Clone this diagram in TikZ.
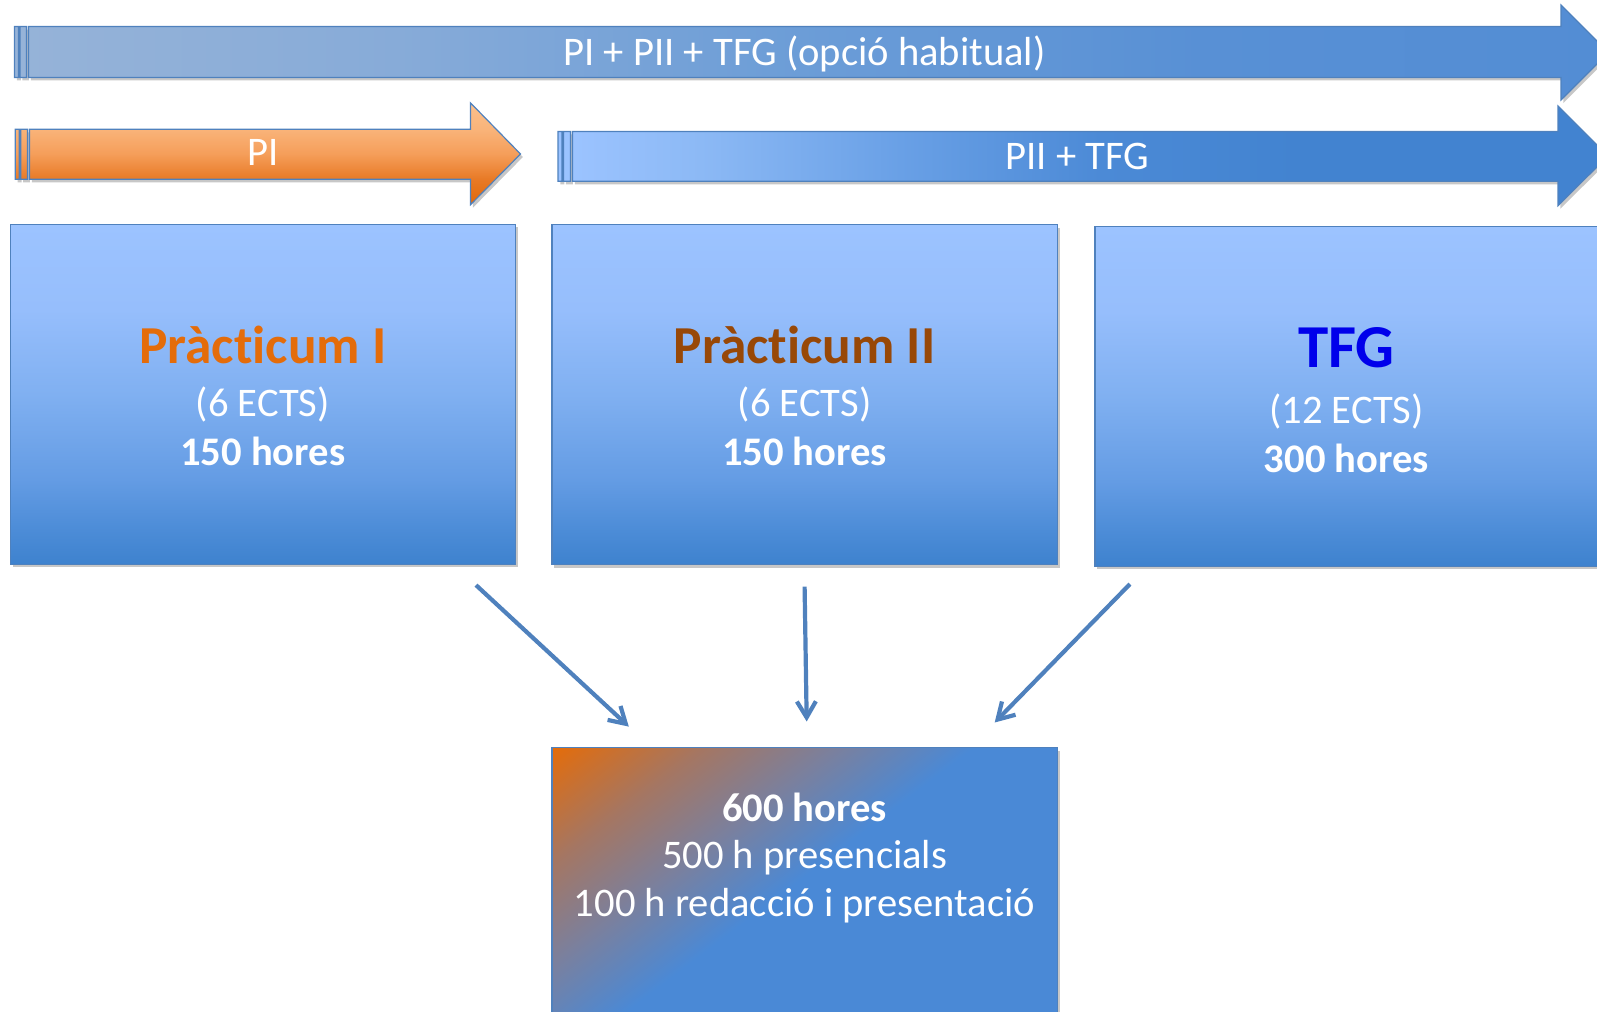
\documentclass[tikz,border=0pt]{standalone}
\usepackage{fontspec}
\setmainfont{Carlito}[RawFeature={-liga;-clig;-calt;-dlig}]
\usetikzlibrary{arrows.meta,shadows,calc}

\definecolor{edgeblue}{RGB}{79,129,189}
\definecolor{ttlorange}{RGB}{228,108,10}
\definecolor{ttlbrown}{RGB}{152,72,7}
\definecolor{ttlblue}{RGB}{0,0,235}

% box vertical shading
\definecolor{bxA}{RGB}{62,130,206}
\definecolor{bxB}{RGB}{76,140,215}
\definecolor{bxC}{RGB}{100,156,228}
\definecolor{bxD}{RGB}{128,176,241}
\definecolor{bxE}{RGB}{150,190,252}
\definecolor{bxF}{RGB}{156,195,255}
\pgfdeclareverticalshading{boxsh}{100bp}{color(0bp)=(bxA); color(25bp)=(bxA); color(30bp)=(bxB); color(37.5bp)=(bxC); color(50bp)=(bxD); color(62.5bp)=(bxE); color(75bp)=(bxF); color(100bp)=(bxF)}

% top arrow horizontal shading
\definecolor{taA}{RGB}{150,179,216}
\definecolor{taB}{RGB}{135,171,216}
\definecolor{taC}{RGB}{108,157,215}
\definecolor{taD}{RGB}{88,144,213}
\definecolor{taE}{RGB}{83,141,212}
\pgfdeclarehorizontalshading{topsh}{100bp}{color(0bp)=(taA); color(25bp)=(taA); color(37bp)=(taB); color(49.6bp)=(taC); color(62.2bp)=(taD); color(75bp)=(taE); color(100bp)=(taE)}

% PII + TFG arrow shading
\definecolor{paA}{RGB}{155,195,255}
\definecolor{paB}{RGB}{140,185,245}
\definecolor{paC}{RGB}{105,160,230}
\definecolor{paD}{RGB}{76,138,214}
\definecolor{paE}{RGB}{66,131,208}
\pgfdeclarehorizontalshading{piish}{100bp}{color(0bp)=(paA); color(25.8bp)=(paA); color(31.8bp)=(paB); color(41.3bp)=(paC); color(50.8bp)=(paD); color(60.3bp)=(paE); color(100bp)=(paE)}

% PI orange arrow shading
\definecolor{orA}{RGB}{224,104,10}
\definecolor{orB}{RGB}{232,122,38}
\definecolor{orC}{RGB}{245,158,90}
\definecolor{orD}{RGB}{249,180,122}
\definecolor{orE}{RGB}{251,192,140}
\pgfdeclareverticalshading{orsh}{100bp}{color(0bp)=(orA); color(25bp)=(orA); color(37.7bp)=(orB); color(50bp)=(orC); color(62.3bp)=(orD); color(75bp)=(orE); color(100bp)=(orE)}

% bottom box diagonal shading
\definecolor{dgA}{RGB}{228,108,10}
\definecolor{dgB}{RGB}{165,118,98}
\definecolor{dgC}{RGB}{122,128,158}
\definecolor{dgD}{RGB}{74,137,214}
\pgfdeclarehorizontalshading{diagsh}{100bp}{color(0bp)=(dgA); color(15bp)=(dgA); color(26bp)=(dgB); color(36bp)=(dgC); color(46bp)=(dgD); color(100bp)=(dgD)}

\begin{document}
\begin{tikzpicture}[x=0.5pt,y=-0.5pt,
  shadowed/.style={drop shadow={shadow xshift=1.2pt,shadow yshift=-1.5pt,opacity=0.22,fill=black}},
  bar/.style={draw=edgeblue,line width=0.6pt,shadowed},
  box/.style={draw=edgeblue,line width=0.6pt,shading=boxsh,minimum width=252.6pt,minimum height=170pt,inner sep=0pt,shadowed},
  lbl/.style={text=white,anchor=base,inner sep=0pt,font=\fontsize{20.3}{24}\selectfont},
  lblb/.style={lbl,font=\fontsize{20.3}{24}\selectfont\bfseries},
  ttl/.style={anchor=base,inner sep=0pt,font=\fontsize{26.7}{30}\selectfont\bfseries},
  conn/.style={draw=edgeblue,line width=2.1pt,-{Straight Barb[length=8pt,width=9.5pt]}}
]
\clip (0,0) rectangle (1597,1012);
\useasboundingbox (0,0) rectangle (1597,1012);

% top arrow
\path[bar,shading=topsh]
  (14.5,26.5) rectangle (18.5,77.4)
  (20,26.5) rectangle (26.5,77.4)
  (28.5,26.5) -- (1561,26.5) -- (1561,5) -- (1608.5,52.5) -- (1561,100) -- (1561,77.4) -- (28.5,77.4) -- cycle;
\node[lbl] (toptext) at (804.6,65.5) {PI + PII + TFG (opció habitual)};

% PI arrow
\path[bar,shading=orsh]
  (15.3,129.3) rectangle (19.3,179.3)
  (20.8,129.3) rectangle (27.5,179.3)
  (29.5,129.3) -- (470.5,129.3) -- (470.5,102.9) -- (520.5,154) -- (470.5,204.7) -- (470.5,179.3) -- (29.5,179.3) -- cycle;
\node[lbl] (pitext) at (262.8,165) {PI};

% PII + TFG arrow
\path[bar,shading=piish]
  (558,131.4) rectangle (562,181.3)
  (563.5,131.4) rectangle (570.5,181.3)
  (572.5,131.4) -- (1558,131.4) -- (1558,106) -- (1608,156) -- (1558,205.7) -- (1558,181.3) -- (572.5,181.3) -- cycle;
\node[lbl] (piitext) at (1077.6,169) {PII + TFG};

% boxes
\node[box] (b1) at (262.8,394.1) {};
\node[box] (b2) at (804.6,394.6) {};
\node[box] (b3) at (1347.5,396.2) {};
\node[box,shading=diagsh,shading angle=-52.8] (b4) at (804.6,917.6) {};

\node[ttl,text=ttlorange] (b1t) at (262.8,363.6) {Pràct\kern0pt icum I};
\node[lbl] (b1e) at (262.8,416.6) {(6 ECTS)};
\node[lblb] (b1h) at (262.8,465.5) {150 hores};

\node[ttl,text=ttlbrown] (b2t) at (804.6,363.6) {Pràct\kern0pt icum II};
\node[lbl] (b2e) at (804.6,416.6) {(6 ECTS)};
\node[lblb] (b2h) at (804.6,465.5) {150 hores};

\node[ttl,text=ttlblue,font=\fontsize{30.5}{34}\selectfont\bfseries] (b3t) at (1346.4,367.7) {TFG};
\node[lbl] (b3e) at (1346.4,423.7) {(12 ECTS)};
\node[lblb] (b3h) at (1346.4,472.6) {300 hores};

\node[lblb] (b4a) at (804.6,821) {600 hores};
\node[lbl] (b4b) at (804.6,868.8) {500 h presencials};
\node[lbl] (b4c) at (804.6,916.7) {100 h redacció i presentació};

% connectors
\coordinate (a1s) at ($(b1.south east)+(-40,20.4)$);
\coordinate (a1e) at ($(b4.north west)+(77.4,-20.4)$);
\coordinate (a2s) at ($(b2.south)+(0,21.4)$);
\coordinate (a2e) at ($(b4.north)+(2.1,-25.5)$);
\coordinate (a3s) at ($(b3.south west)+(35.6,17.3)$);
\coordinate (a3e) at ($(b4.north east)+(-63.1,-24.5)$);
\draw[conn] (a1s) -- (a1e);
\draw[conn] (a2s) -- (a2e);
\draw[conn] (a3s) -- (a3e);
\end{tikzpicture}
\end{document}
